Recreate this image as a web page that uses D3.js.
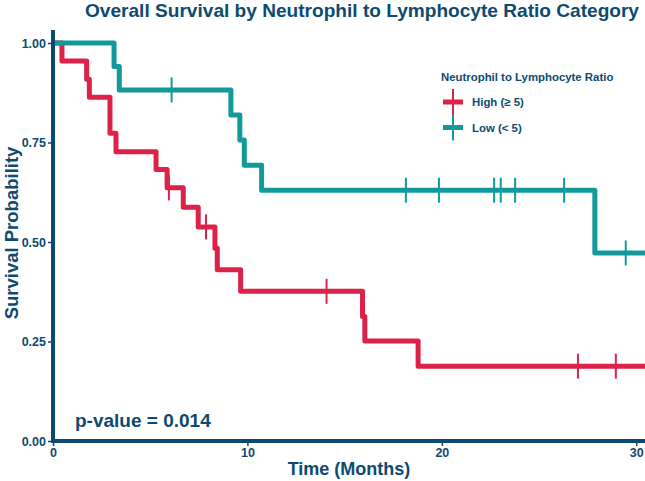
<!DOCTYPE html>
<html>
<head>
<meta charset="utf-8">
<script src="https://cdn.jsdelivr.net/npm/d3@7"></script>
<style>
  body { margin: 0; background: #fff; }
  text { font-family: "Liberation Sans", Arial, sans-serif; font-weight: bold; fill: #0d4a6f; }
</style>
</head>
<body>
<script>
(function(){

    const svgWidth = 645,
        svgHeight = 481;

    // step curves (time in months, survival probability)
    const highTime = [0, 0.46, 1.73, 1.87, 2.93, 3.24, 5.3, 5.87, 6.7, 7.47, 8.33, 8.45, 9.65, 15.92, 16.04, 18.78];
    const highSurv = [1, 0.955, 0.909, 0.864, 0.773, 0.727, 0.682, 0.636, 0.587, 0.538, 0.484, 0.430, 0.376, 0.313, 0.251, 0.188];
    const highCensor = [5.96, 7.87, 14.07, 27.0, 28.95];

    const lowTime = [0, 3.14, 3.41, 9.15, 9.61, 9.84, 10.73, 27.87];
    const lowSurv = [1, 0.941, 0.882, 0.819, 0.756, 0.693, 0.630, 0.4725];
    const lowCensor = [6.1, 18.15, 19.85, 22.69, 23.03, 23.77, 26.29, 29.46];

    const xTicks = [0, 10, 20, 30];
    const yTicks = [0, 0.25, 0.5, 0.75, 1];

    const navy = "#0d4a6f",
        red = "#dc2249",
        teal = "#12999a";

    const margin = { top: 43, left: 53, bottom: 40 };
    const xMax = 30.45;

    const svg = d3.select("body")
        .append("svg")
        .attr("width", svgWidth)
        .attr("height", svgHeight);

    const x = d3.scaleLinear()
        .domain([0, xMax])
        .range([margin.left, svgWidth]);

    const y = d3.scaleLinear()
        .domain([0, 1])
        .range([svgHeight - margin.bottom, margin.top]);

    svg.append("clipPath")
        .attr("id", "plot")
        .append("rect")
        .attr("x", margin.left)
        .attr("y", 0)
        .attr("width", svgWidth - margin.left)
        .attr("height", svgHeight);

    // title
    svg.append("text")
        .attr("x", 362)
        .attr("y", 16.5)
        .attr("text-anchor", "middle")
        .attr("font-size", 19)
        .attr("textLength", 554)
        .attr("lengthAdjust", "spacingAndGlyphs")
        .text("Overall Survival by Neutrophil to Lymphocyte Ratio Category");

    const plot = svg.append("g").attr("clip-path", "url(#plot)");

    const line = d3.line()
        .x(d => x(d[0]))
        .y(d => y(d[1]))
        .curve(d3.curveStepAfter);

    function stepAt(times, surv, t) {
        return surv[d3.bisectRight(times, t) - 1];
    }

    function drawCurve(times, surv, censor, color) {
        const pts = times.map((t, i) => [t, surv[i]]);
        pts.push([xMax + 1, surv[surv.length - 1]]);
        plot.append("path")
            .attr("d", line(pts))
            .attr("fill", "none")
            .attr("stroke", color)
            .attr("stroke-width", 5)
            .attr("stroke-linejoin", "round");
        plot.selectAll(null)
            .data(censor)
            .enter()
            .append("line")
            .attr("x1", d => x(d))
            .attr("x2", d => x(d))
            .attr("y1", d => y(stepAt(times, surv, d)) - 12.5)
            .attr("y2", d => y(stepAt(times, surv, d)) + 12.5)
            .attr("stroke", color)
            .attr("stroke-width", 2);
    }

    drawCurve(highTime, highSurv, highCensor, red);
    drawCurve(lowTime, lowSurv, lowCensor, teal);

    // axes
    const xAxis = svg.append("g")
        .attr("transform", `translate(0, ${y(0)})`)
        .call(d3.axisBottom(x).tickValues(xTicks).tickSize(5).tickPadding(2).tickFormat(d3.format("d")));
    const yAxis = svg.append("g")
        .attr("transform", `translate(${x(0)}, 0)`)
        .call(d3.axisLeft(y).tickValues(yTicks).tickSize(5).tickPadding(2).tickFormat(d3.format(".2f")));

    [xAxis, yAxis].forEach(g => {
        g.select(".domain").remove();
        g.selectAll(".tick line").attr("stroke", navy).attr("stroke-width", 1.5);
        g.selectAll(".tick text")
            .attr("fill", navy)
            .attr("font-size", 12.5)
            .attr("font-family", "Liberation Sans, Arial, sans-serif")
            .attr("font-weight", "bold");
    });

    svg.append("line")
        .attr("x1", x(0)).attr("x2", svgWidth)
        .attr("y1", y(0)).attr("y2", y(0))
        .attr("stroke", navy).attr("stroke-width", 4);
    svg.append("line")
        .attr("x1", x(0)).attr("x2", x(0))
        .attr("y1", y(0) + 2).attr("y2", 30)
        .attr("stroke", navy).attr("stroke-width", 4);

    // axis titles
    svg.append("text")
        .attr("x", 349)
        .attr("y", 475)
        .attr("text-anchor", "middle")
        .attr("font-size", 18)
        .text("Time (Months)");

    svg.append("text")
        .attr("transform", `translate(18, ${y(0.5) - 9}) rotate(-90)`)
        .attr("text-anchor", "middle")
        .attr("font-size", 18.5)
        .text("Survival Probability");

    // p-value
    svg.append("text")
        .attr("x", 75)
        .attr("y", 427)
        .attr("font-size", 19)
        .text("p-value = 0.014");

    // legend
    const legend = svg.append("g").attr("transform", "translate(441, 0)");
    legend.append("text")
        .attr("x", 0)
        .attr("y", 81)
        .attr("font-size", 11.4)
        .text("Neutrophil to Lymphocyte Ratio");

    const legendItems = [["High (\u2265 5)", red, 102], ["Low (< 5)", teal, 127.5]];
    legendItems.forEach(([label, color, ly]) => {
        legend.append("line")
            .attr("x1", 2).attr("x2", 22)
            .attr("y1", ly).attr("y2", ly)
            .attr("stroke", color).attr("stroke-width", 5);
        legend.append("line")
            .attr("x1", 12).attr("x2", 12)
            .attr("y1", ly - 13).attr("y2", ly + 13)
            .attr("stroke", color).attr("stroke-width", 2);
        legend.append("text")
            .attr("x", 31)
            .attr("y", ly + 4)
            .attr("font-size", 11.4)
            .text(label);
    });

})()
</script>
</body>
</html>
